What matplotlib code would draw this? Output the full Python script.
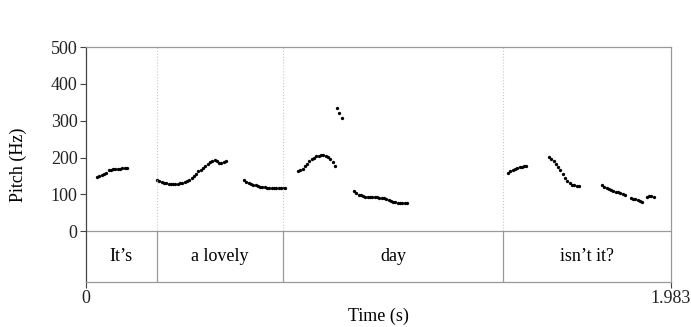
import numpy as np
import matplotlib
matplotlib.use("Agg")
import matplotlib.pyplot as plt

plt.rcParams['font.family'] = ['Liberation Serif', 'DejaVu Serif']

# pitch track, one entry per voiced stretch: start time (s) and F0 values (Hz)
frame_step = 0.0078
seg_starts = [0.0373, 0.2407, 0.5356, 0.7186, 0.851, 0.9084,
              1.4305, 1.5694, 1.749, 1.847, 1.901]
seg_pitch = [
    [147, 149, 152, 155, 158, 165, 167, 168, 169, 170, 170, 171, 171, 171],
    [138, 136, 134, 132, 130, 129, 128, 128, 128, 129, 130, 131, 133, 136, 140,
     145, 150, 156, 162, 167, 172, 177, 182, 187, 191, 193, 191, 186, 185, 189, 190],
    [138, 134, 131, 128, 126, 124, 122, 121, 120, 119, 118, 118, 117, 117, 117,
     117, 116, 116, 116],
    [164, 165, 170, 176, 183, 190, 196, 200, 203, 205, 206, 206, 205, 202, 197,
     188, 178],
    [334, 321, 306],
    [109, 103, 99, 97, 95, 94, 94, 93, 93, 92, 92, 91, 90, 89, 87, 84, 82, 80,
     78, 76, 76, 76, 76, 76],
    [159, 163, 166, 168, 171, 173, 175, 177, 178],
    [202, 196, 190, 182, 175, 165, 155, 145, 137, 130, 126, 124, 123, 123],
    [124, 120, 117, 114, 111, 109, 107, 105, 103, 101, 99],
    [90, 88, 86, 84, 82, 79],
    [92, 95, 95, 94],
]

# word tier
total_dur = 1.983
word_bounds = [0.0, 0.2397, 0.6668, 1.4146, 1.983]
words = ["It\u2019s", "a lovely", "day", "isn\u2019t it?"]

fig = plt.figure(figsize=(6.91, 3.27), dpi=100)
ax = fig.add_axes([86 / 691, 45 / 327, 585 / 691, 235 / 327])

tier_bottom = -138
ax.set_xlim(0, total_dur)
ax.set_ylim(tier_bottom, 500)

for t0, vals in zip(seg_starts, seg_pitch):
    t = t0 + frame_step * np.arange(len(vals))
    ax.plot(t, vals, 'o', color='black', markersize=2.4, markeredgewidth=0)

grey = '#999999'
ax.axhline(0, color=grey, lw=0.9)
for b in word_bounds[1:-1]:
    ax.plot([b, b], [0, 500], color='#c8c8c8', lw=0.8, ls=':')
    ax.plot([b, b], [tier_bottom, 0], color=grey, lw=0.9)

fs = 13
for w, a, b in zip(words, word_bounds[:-1], word_bounds[1:]):
    ax.text((a + b) / 2, tier_bottom / 2, w, ha='center', va='center', fontsize=fs)

ax.set_yticks([0, 100, 200, 300, 400, 500])
ax.set_xticks([0, total_dur])
ax.set_xticklabels(["0", "1.983"])
ax.tick_params(axis='both', labelsize=fs, length=4, width=0.8,
               colors='#444444', labelcolor='#222222', pad=2)
ax.tick_params(axis='x', pad=2)

ax.spines['left'].set_color('#444444')
for s in ['top', 'right', 'bottom']:
    ax.spines[s].set_color(grey)
for s in ax.spines.values():
    s.set_linewidth(0.9)

ax.set_ylabel("Pitch (Hz)", fontsize=fs)
ax.set_xlabel("Time (s)", fontsize=fs)
ax.yaxis.set_label_coords(-0.1, 0.5)
ax.xaxis.set_label_coords(0.5, -0.11)

fig.savefig("out.png", dpi=100)
